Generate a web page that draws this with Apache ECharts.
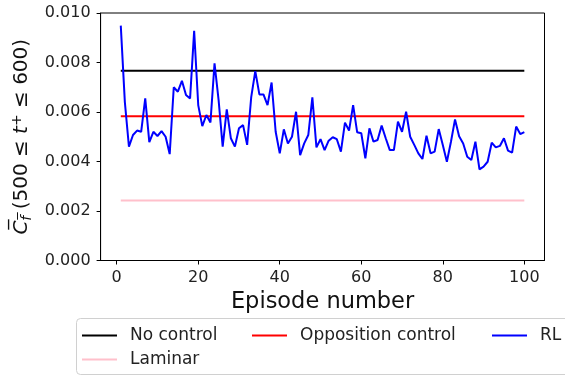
<!DOCTYPE html>
<html>
<head>
<meta charset="utf-8">
<script src="https://cdn.jsdelivr.net/npm/echarts@6/dist/echarts.min.js"></script>
<style>html,body{margin:0;padding:0;background:#fff}#c{width:565px;height:376px}</style>
</head>
<body>
<div id="c"></div>
<script>
const episodes = Array.from({length: 100}, (_, i) => i + 1);
const rlValues = [
  0.00949, 0.0064, 0.00460, 0.00507, 0.00525, 0.00520, 0.00655, 0.00478, 0.00520, 0.00503,
  0.00523, 0.00500, 0.00430, 0.00700, 0.00682, 0.00726, 0.00669, 0.00655, 0.00928, 0.00628,
  0.00543, 0.00588, 0.00558, 0.00797, 0.00648, 0.00460, 0.00611, 0.00494, 0.00460, 0.00534,
  0.00547, 0.00467, 0.00660, 0.00765, 0.00671, 0.00671, 0.00628, 0.00719, 0.00520, 0.00433,
  0.00530, 0.00473, 0.00500, 0.00601, 0.00426, 0.00473, 0.00507, 0.00659, 0.00457, 0.00490,
  0.00446, 0.00484, 0.00498, 0.00490, 0.00440, 0.00557, 0.00525, 0.00628, 0.00518, 0.00514,
  0.00413, 0.00534, 0.00480, 0.00487, 0.00545, 0.00494, 0.00446, 0.00446, 0.00561, 0.00520,
  0.00601, 0.00500, 0.00467, 0.00433, 0.00410, 0.00504, 0.00433, 0.00440, 0.00531, 0.00467,
  0.00399, 0.00480, 0.00570, 0.00502, 0.00473, 0.00419, 0.00406, 0.00480, 0.00368, 0.00379,
  0.00399, 0.00476, 0.00457, 0.00463, 0.00494, 0.00444, 0.00436, 0.00541, 0.00511, 0.00519
];
const noControl = 0.00767;
const oppositionControl = 0.00583;
const laminar = 0.00242;
const xTicks = [0, 20, 40, 60, 80, 100];
const seriesNames = ['No control', 'Opposition control', 'RL', 'Laminar'];

const flat = v => [[episodes[0], v], [episodes[episodes.length - 1], v]];
const FONT = 'DejaVu Sans';

const chart = echarts.init(document.getElementById('c'), null, {renderer: 'canvas'});
const legendBase = (name, left, top) => ({
  data: [name], left: left, top: top, orient: 'horizontal', padding: 0,
  itemWidth: 35, itemHeight: 2, icon: 'rect', selectedMode: false,
  textStyle: {fontFamily: FONT, fontSize: 17, color: '#222', padding: [0, 0, 0, 8]}
});
chart.setOption({
  animation: false,
  backgroundColor: '#fff',
  grid: {left: 100.6, right: 20.5, top: 13, bottom: 115.5, show: true, borderColor: '#000', borderWidth: 1, backgroundColor: 'transparent'},
  xAxis: {
    type: 'value', min: -3.95, max: 104.95,
    name: 'Episode number', nameLocation: 'middle', nameGap: 29,
    nameTextStyle: {fontFamily: FONT, fontSize: 22.5, color: '#111'},
    axisLine: {show: true, onZero: false, lineStyle: {color: '#000', width: 1}},
    axisTick: {show: true, length: 4, lineStyle: {color: '#000'}, customValues: xTicks},
    axisLabel: {fontFamily: FONT, fontSize: 16, color: '#222', margin: 9, customValues: xTicks},
    splitLine: {show: false}
  },
  yAxis: {
    type: 'value', min: 0, max: 0.010, interval: 0.002,
    name: '{c|C\u0305}{f|f\u0305}{n| (500 \u2264 }{t|t}{s|+}{n| \u2264 600)}',
    nameLocation: 'middle', nameGap: 66, nameRotate: 90,
    nameTextStyle: {
      fontFamily: FONT, fontSize: 20, color: '#111',
      rich: {
        c: {fontFamily: FONT, fontSize: 20, fontStyle: 'italic', color: '#111'},
        f: {fontFamily: FONT, fontSize: 14, fontStyle: 'italic', color: '#111', verticalAlign: 'bottom', padding: [8, 0, 0, 0]},
        n: {fontFamily: FONT, fontSize: 20, color: '#111'},
        t: {fontFamily: FONT, fontSize: 20, fontStyle: 'italic', color: '#111'},
        s: {fontFamily: FONT, fontSize: 14, color: '#111', verticalAlign: 'top', padding: [0, 0, 10, 0]}
      }
    },
    axisLine: {show: true, onZero: false, lineStyle: {color: '#000', width: 1}},
    axisTick: {show: true, length: 4, lineStyle: {color: '#000'}},
    axisLabel: {fontFamily: FONT, fontSize: 16, color: '#222', margin: 10, formatter: v => v.toFixed(3)},
    splitLine: {show: false}
  },
  legend: [
    legendBase(seriesNames[0], 82, 327),
    legendBase(seriesNames[1], 252, 327),
    legendBase(seriesNames[2], 492, 327),
    legendBase(seriesNames[3], 82, 351)
  ],
  graphic: [{
    type: 'rect', left: 76, top: 318, z: -1,
    shape: {width: 500, height: 56, r: 4},
    style: {fill: '#fff', stroke: '#d0d0d0', lineWidth: 1}
  }],
  series: [
    {name: seriesNames[0], type: 'line', data: flat(noControl), showSymbol: false, color: '#000', lineStyle: {color: '#000', width: 2}},
    {name: seriesNames[1], type: 'line', data: flat(oppositionControl), showSymbol: false, color: '#ff0000', lineStyle: {color: '#ff0000', width: 2}},
    {name: seriesNames[2], type: 'line', data: episodes.map((e, i) => [e, rlValues[i]]), showSymbol: false, color: '#0000ff', lineStyle: {color: '#0000ff', width: 2}},
    {name: seriesNames[3], type: 'line', data: flat(laminar), showSymbol: false, color: '#ffc0cb', lineStyle: {color: '#ffc0cb', width: 2}}
  ]
});
</script>
</body>
</html>
